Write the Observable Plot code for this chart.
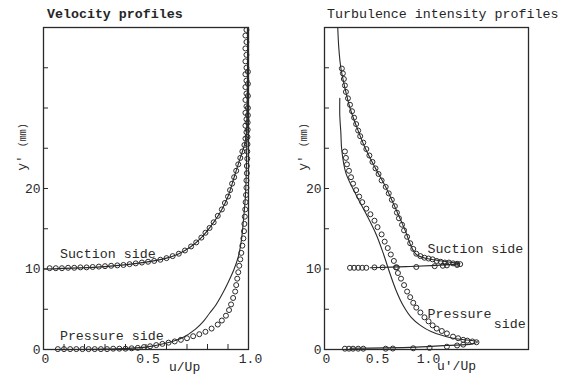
<!DOCTYPE html>
<html>
<head>
<meta charset="utf-8">
<script src="https://cdn.jsdelivr.net/npm/d3@7"></script>
<script src="https://cdn.jsdelivr.net/npm/@observablehq/plot@0.6"></script>
<style>
  body { margin: 0; background: #fff; }
  #wrap { position: relative; width: 571px; height: 375px; overflow: hidden; font-family: "Liberation Mono", "DejaVu Sans Mono", monospace; color: #262626; }
  .panel { position: absolute; top: 0; }
  .lbl { position: absolute; font-size: 13.3px; white-space: nowrap; line-height: 1; }
  .ylab { position: absolute; white-space: nowrap; line-height: 1; transform: translate(-50%, -50%) rotate(-90deg); font-size: 13px; }
  .ylab small { font-size: 10px; }
</style>
</head>
<body>
<div id="wrap">
  <div class="panel" id="left" style="left:0"></div>
  <div class="panel" id="right" style="left:285px"></div>
  <div class="lbl" style="left:47px; top:8px; font-weight:bold;">Velocity profiles</div>
  <div class="lbl" style="left:327px; top:8px;">Turbulence intensity profiles</div>
  <div class="ylab" style="left:22px; top:147px;">y′ <small>(mm)</small></div>
  <div class="ylab" style="left:303px; top:147px;">y′ <small>(mm)</small></div>
  <div class="lbl" style="left:169px; top:361px; font-size:13px;">u/Up</div>
  <div class="lbl" style="left:437px; top:360px; font-size:13px;">u'/Up</div>
</div>
<script>
// ---------- Velocity profiles (left) ----------
const velSucU = [0.03,0.06,0.09,0.12,0.15,0.18,0.21,0.24,0.27,0.30,0.33,0.36,0.39,0.42,0.45,0.48,0.51,0.54,0.57,0.60,0.63,0.66,0.69,0.72,0.745,0.77,0.79,0.81,0.83,0.85,0.87,0.885,0.90,0.91,0.92,0.93,0.94,0.95,0.96,0.97,0.98,0.985,0.99,0.985,0.99,0.985,0.99,0.985,0.99,0.985,0.99,0.985,0.99,0.985,0.99,0.985,0.99,0.985,0.99];
const velSucY = [10.1,10.1,10.1,10.15,10.15,10.2,10.2,10.25,10.3,10.35,10.4,10.45,10.5,10.6,10.7,10.8,10.9,11.0,11.15,11.35,11.6,11.9,12.3,12.8,13.3,13.9,14.5,15.1,15.8,16.6,17.4,18.2,19.0,19.8,20.6,21.4,22.2,23.0,23.8,24.6,25.4,26.2,27.0,27.8,28.6,29.4,30.2,31.0,31.8,32.6,33.4,34.2,35.0,35.8,36.6,37.4,38.2,39.0,39.7];
const velPreU = [0.07,0.10,0.13,0.16,0.19,0.22,0.25,0.28,0.31,0.34,0.37,0.40,0.43,0.46,0.49,0.52,0.55,0.58,0.61,0.64,0.67,0.70,0.73,0.76,0.79,0.82,0.85,0.87,0.89,0.905,0.915,0.925,0.935,0.94,0.945,0.95,0.955,0.96,0.965,0.97,0.975,0.978,0.98,0.982,0.984,0.986,0.988,0.99,0.99,0.992,0.992,0.994,0.994,0.995,0.995,0.996,0.996,0.997,0.997,0.997,0.997,0.997];
const velPreY = [0.05,0.05,0.05,0.05,0.05,0.05,0.05,0.05,0.05,0.1,0.1,0.1,0.15,0.2,0.3,0.4,0.55,0.7,0.85,1.0,1.2,1.4,1.65,1.9,2.2,2.6,3.1,3.6,4.2,4.9,5.6,6.4,7.2,8.0,8.8,9.6,10.4,11.2,12.0,12.9,13.8,14.7,15.6,16.5,17.4,18.3,19.2,20.1,21.0,21.9,22.8,23.7,24.6,25.5,26.4,27.3,28.2,29.1,30.0,31.5,33.0,34.5];
const velSucLineU = [0,0.3,0.5,0.6,0.66,0.72,0.77,0.83,0.87,0.9,0.93,0.96,0.98,0.99,0.995,0.995];
const velSucLineY = [10,10.3,10.85,11.35,11.9,12.8,13.9,15.8,17.4,19.0,21.4,23.8,25.4,27,32,40];
const velPreLineU = [0,0.3,0.5,0.6,0.68,0.74,0.78,0.81,0.84,0.87,0.9,0.93,0.95,0.965,0.975,0.985,0.99,0.993,0.995,0.995];
const velPreLineY = [0,0.05,0.3,0.8,1.5,2.5,3.5,4.5,5.5,6.8,8.3,10,11.5,13.5,16,19,23,28,34,40];
const velNotes = ["Suction side", "Pressure side"];
const velNoteU = [0.08, 0.08];
const velNoteY = [11.9, 1.7];

// ---------- Turbulence intensity profiles (right) ----------
const turSucU = [0.25,0.29,0.33,0.37,0.41,0.49,0.57,0.71,0.90,1.08,1.16,1.20,1.30,1.33,1.30,1.26,1.22,1.18,1.14,1.10,1.06,1.02,0.98,0.94,0.90,0.87,0.84,0.81,0.78,0.76,0.73,0.71,0.69,0.66,0.63,0.60,0.56,0.53,0.50,0.47,0.44,0.41,0.38,0.35,0.33,0.31,0.29,0.27,0.25,0.23,0.21,0.20,0.19,0.18,0.17];
const turSucY = [10.15,10.15,10.15,10.15,10.15,10.2,10.2,10.2,10.25,10.35,10.4,10.45,10.5,10.6,10.65,10.7,10.8,10.8,10.9,11.0,11.2,11.3,11.4,11.6,11.9,12.5,13.2,14.0,14.8,15.5,16.3,17.0,17.8,18.6,19.4,20.2,21.0,21.8,22.5,23.3,24.1,24.9,25.7,26.5,27.2,28.0,28.8,29.6,30.4,31.2,32.0,32.8,33.6,34.3,34.9];
const turPreU = [0.20,0.24,0.28,0.33,0.38,0.60,0.67,0.87,1.03,1.20,1.30,1.36,1.49,1.45,1.40,1.36,1.31,1.26,1.20,1.15,1.10,1.06,1.02,0.98,0.94,0.90,0.87,0.84,0.81,0.78,0.75,0.72,0.70,0.68,0.65,0.62,0.59,0.56,0.52,0.49,0.45,0.41,0.37,0.34,0.31,0.28,0.26,0.24,0.22,0.21,0.20];
const turPreY = [0.1,0.1,0.1,0.1,0.1,0.1,0.12,0.15,0.2,0.35,0.5,0.6,0.9,1.0,1.1,1.2,1.4,1.6,2.0,2.3,2.6,3.0,3.5,4.0,4.6,5.2,5.8,6.5,7.2,8.0,8.8,9.5,10.2,11.0,11.8,12.6,13.4,14.3,15.2,16.0,16.8,17.5,18.3,19.0,19.8,20.6,21.4,22.2,23.0,23.8,24.6];
const turSucLineU = [0.45,0.8,1.1,1.3,1.33,1.2,1.1,1.0,0.9,0.85,0.8,0.75,0.68,0.6,0.5,0.4,0.32,0.25,0.2,0.16,0.14,0.13];
const turSucLineY = [10.15,10.3,10.45,10.6,10.65,10.9,11.1,11.3,11.8,12.8,14.5,16.0,18.0,20.2,22.5,25.0,27.5,30.0,32.5,35.0,37.5,40];
const turPreLineU = [0.25,0.6,0.9,1.2,1.45,1.5,1.26,1.05,0.94,0.85,0.77,0.70,0.64,0.58,0.51,0.41,0.31,0.21,0.17,0.16,0.15,0.15];
const turPreLineY = [0.15,0.2,0.3,0.5,0.7,0.95,1.4,2.2,3.0,4.0,5.5,7.4,9.5,11.8,14.2,16.8,19.2,21.9,24.7,27,29,31.2];
const turNotes = ["Suction side", "Pressure", "side"];
const turNoteU = [1.01, 1.01, 1.66];
const turNoteY = [12.5, 4.5, 3.2];

// shared axis tick values
const yMinorTicks = [5,10,15,20,25,30,35];
const yLabelTicks = [0,10,20];
const xLabelTicks = [0,0.5,1.0];
const velXMinorTicks = [0.1,0.2,0.3,0.4,0.5,0.6,0.7,0.8,0.9];

const pairs = (xs, ys) => xs.map((x, i) => ({x, y: ys[i]}));
const notes = (ts, xs, ys) => ts.map((t, i) => ({t, x: xs[i], y: ys[i]}));
const ink = "#2a2a2a";
const fmtX = d => d === 0 ? "0" : d.toFixed(1);
const W = 286, H = 375, MT = 27, MB = 26, TICK = 5;

function panel({xDomain, marginLeft, marginRight, circles, lines, labels, xMinor}) {
  const innerW = W - marginLeft - marginRight;
  const innerH = H - MT - MB;
  const marks = [
    Plot.ruleY(yMinorTicks, {stroke: ink, strokeWidth: 1, insetRight: innerW - TICK}),
    Plot.axisY({ticks: yLabelTicks, tickSize: 0, tickPadding: 3, label: null, fill: ink}),
    Plot.axisX({ticks: xLabelTicks, tickSize: 0, tickPadding: 4, dx: 2, tickFormat: fmtX, label: null, fill: ink}),
  ];
  if (xMinor) marks.push(Plot.ruleX(xMinor, {stroke: ink, strokeWidth: 1, insetTop: innerH - TICK}));
  for (const l of lines) marks.push(Plot.line(l, {x: "x", y: "y", stroke: ink, strokeWidth: 1.1, curve: "catmull-rom"}));
  for (const c of circles) marks.push(Plot.dot(c, {x: "x", y: "y", r: 2.5, stroke: ink, strokeWidth: 1, fill: "none"}));
  marks.push(Plot.text(labels, {x: "x", y: "y", text: "t", textAnchor: "start", fill: ink, fontSize: 13.3}));
  marks.push(Plot.frame({stroke: ink, strokeWidth: 1.3}));
  return Plot.plot({
    width: W, height: H,
    marginLeft, marginRight, marginTop: MT, marginBottom: MB,
    x: {domain: xDomain},
    y: {domain: [0, 40]},
    style: {fontFamily: "'Liberation Mono', 'DejaVu Sans Mono', monospace", fontSize: "13px", background: "transparent", color: ink, overflow: "visible"},
    marks
  });
}

document.getElementById("left").append(panel({
  xDomain: [0, 1], marginLeft: 43, marginRight: 38,
  circles: [pairs(velSucU, velSucY), pairs(velPreU, velPreY)],
  lines: [pairs(velSucLineU, velSucLineY), pairs(velPreLineU, velPreLineY)],
  labels: notes(velNotes, velNoteU, velNoteY),
  xMinor: velXMinorTicks
}));
document.getElementById("right").append(panel({
  xDomain: [0, 2], marginLeft: 39, marginRight: 43,
  circles: [pairs(turSucU, turSucY), pairs(turPreU, turPreY)],
  lines: [pairs(turSucLineU, turSucLineY), pairs(turPreLineU, turPreLineY)],
  labels: notes(turNotes, turNoteU, turNoteY),
  xMinor: null
}));
</script>
</body>
</html>
